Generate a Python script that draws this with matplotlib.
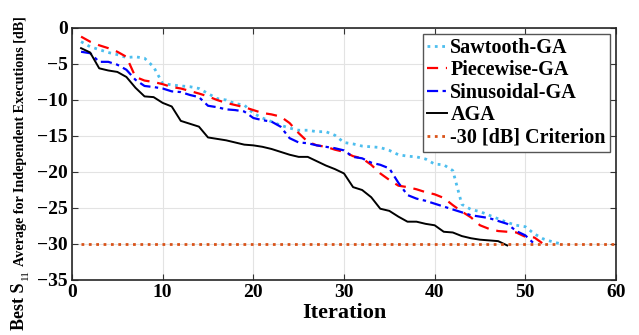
import numpy as np
import matplotlib
matplotlib.use("Agg")
import matplotlib.pyplot as plt

# Average best S11 per iteration
sawtooth = [-1.9, -2.6, -3.0, -3.4, -3.7, -4.1, -4.0, -4.2, -5.4, -7.7,
            -7.9, -8.05, -8.15, -8.4, -9.1, -9.8, -10.0, -10.5, -10.7, -11.85,
            -12.5, -13.0, -13.5, -13.9, -14.2, -14.2, -14.4, -14.4, -14.9, -15.9,
            -16.1, -16.4, -16.5, -16.6, -17.0, -17.6, -17.8, -17.9, -18.2, -18.9,
            -19.0, -19.8, -24.5, -25.2, -25.5, -26.0, -26.5, -27.0, -27.4, -27.6,
            -28.6, -29.3, -29.7, -30.0]
piecewise = [-1.2, -1.9, -2.4, -2.8, -3.3, -4.0, -6.8, -7.3, -7.5, -7.8,
             -8.2, -8.4, -8.75, -9.1, -9.5, -10.0, -10.4, -10.7, -11.0, -11.4,
             -11.8, -12.0, -12.3, -13.2, -14.6, -15.8, -16.3, -16.5, -16.9, -17.2,
             -17.8, -18.1, -19.0, -20.2, -21.1, -21.9, -22.1, -22.4, -22.8, -23.1,
             -23.6, -24.6, -25.5, -26.3, -27.4, -27.9, -28.2, -28.3, -28.4, -29.0,
             -29.1, -30.0]
sinusoidal = [-3.3, -3.5, -4.7, -4.7, -5.1, -5.8, -7.2, -8.05, -8.2, -8.4,
              -8.8, -8.9, -9.3, -9.6, -10.8, -11.0, -11.3, -11.4, -11.6, -12.5,
              -12.8, -13.0, -13.7, -15.3, -15.9, -16.0, -16.3, -16.5, -16.7, -17.0,
              -17.9, -18.1, -18.7, -19.0, -19.5, -21.5, -23.2, -23.7, -24.0, -24.4,
              -24.8, -25.2, -25.6, -26.0, -26.2, -26.4, -26.8, -27.2, -28.2, -28.8,
              -30.0]
aga = [-2.8, -3.4, -5.6, -5.9, -6.1, -6.8, -8.3, -9.5, -9.6, -10.4,
       -10.9, -12.9, -13.3, -13.7, -15.2, -15.4, -15.6, -15.9, -16.2, -16.3,
       -16.5, -16.8, -17.2, -17.6, -17.9, -17.9, -18.5, -19.1, -19.6, -20.2,
       -22.1, -22.5, -23.5, -25.1, -25.4, -26.2, -26.9, -26.9, -27.2, -27.4,
       -28.3, -28.4, -28.9, -29.2, -29.4, -29.5, -29.6, -30.2]
criterion_x = [1, 60]
criterion_y = [-30, -30]

plt.rcParams['font.family'] = ['Liberation Serif', 'DejaVu Serif']
plt.rcParams['font.weight'] = 'bold'

W, H = 639, 335
fig = plt.figure(figsize=(W / 100, H / 100), dpi=100)
ax = fig.add_axes([72 / W, 1 - 280 / H, 544 / W, 252 / H])

it = lambda s: np.arange(1, len(s) + 1)
ax.plot(it(sawtooth), sawtooth, ':', color='#4DBEEE', lw=2, label='Sawtooth-GA')
ax.plot(it(piecewise), piecewise, '--', color='#FF0000', lw=1.6, dashes=(5, 3.5), label='Piecewise-GA')
ax.plot(it(sinusoidal), sinusoidal, '-.', color='#0000FF', lw=1.6, dashes=(5, 2, 1.5, 2), label='Sinusoidal-GA')
ax.plot(it(aga), aga, '-', color='black', lw=1.4, label='AGA')
ax.plot(criterion_x, criterion_y, ':', color='#D95319', lw=2, label='-30 [dB] Criterion')

ax.set_xlim(0, 60)
ax.set_ylim(-35, 0)
ax.set_xticks(range(0, 61, 10))
ax.set_yticks(range(-35, 1, 5))
ax.grid(True, color='#e3e3e3', lw=0.8)
ax.set_axisbelow(True)
ax.tick_params(direction='in', labelsize=14, length=4, color='#333333', top=True, right=True, pad=3)
for sp in ax.spines.values():
    sp.set_color('#262626')
    sp.set_linewidth(1.2)
for lab in ax.get_xticklabels() + ax.get_yticklabels():
    lab.set_fontweight('bold')

ax.set_xlabel('Iteration', fontsize=16, fontweight='bold', labelpad=1)

# y label in three pieces: big "Best S", small "11", then the rest
fig.canvas.draw()
r = fig.canvas.get_renderer()
t1 = fig.text(24 / W, 1 - 330 / H, 'Best S', rotation=90, rotation_mode='anchor',
              ha='left', va='baseline', fontsize=13, fontweight='bold')
y1 = t1.get_window_extent(r).y1
t2 = fig.text(28 / W, (y1 + 2) / H, '11', rotation=90, rotation_mode='anchor',
              ha='left', va='baseline', fontsize=8, fontweight='normal')
y2 = t2.get_window_extent(r).y1
fig.text(24 / W, (y2 + 4) / H, 'Average for Independent Executions [dB]', rotation=90,
         rotation_mode='anchor', ha='left', va='baseline', fontsize=10.2, fontweight='bold')

leg = ax.legend(loc='upper right', handlelength=1.0, handletextpad=0.15,
                borderpad=0.2, labelspacing=0.12, borderaxespad=0.3, fancybox=False,
                framealpha=1, edgecolor='#555555', prop={'weight': 'bold', 'size': 14.5})
leg.get_frame().set_linewidth(1.0)

fig.savefig('out.png', dpi=100)
